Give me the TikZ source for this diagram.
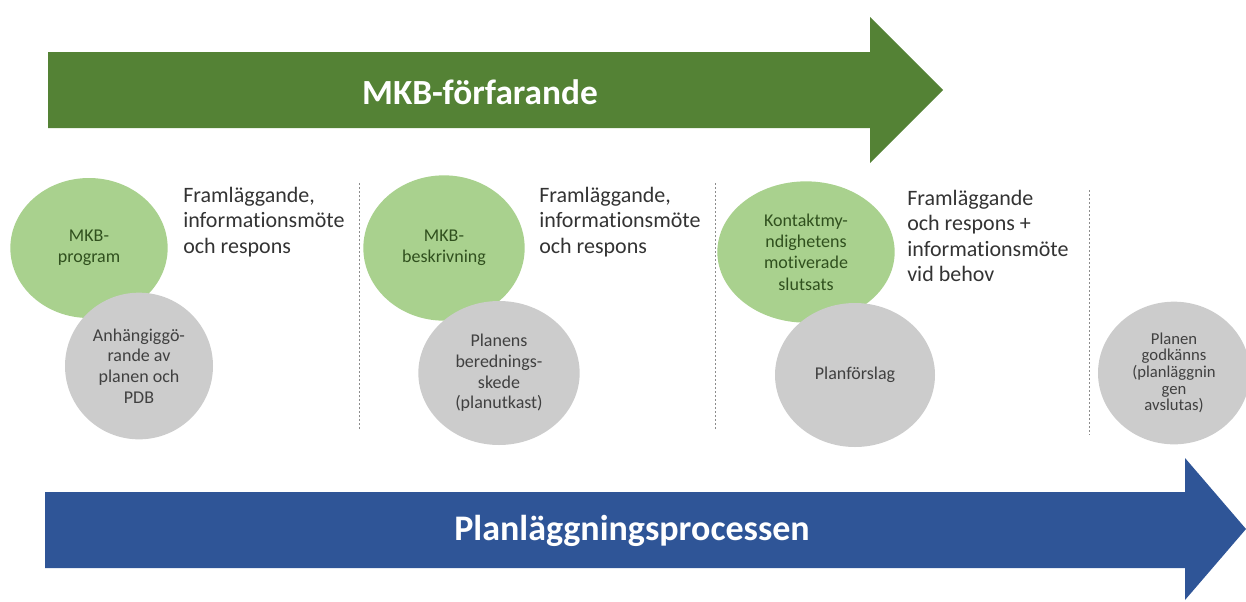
\documentclass[tikz,border=0pt]{standalone}
\usepackage{fontspec}
\setmainfont{Carlito}[Ligatures=NoCommon]
\usetikzlibrary{shapes.geometric}
\definecolor{arrgreen}{RGB}{84,130,53}
\definecolor{arrblue}{RGB}{47,85,151}
\definecolor{cgreen}{RGB}{169,209,142}
\definecolor{cgray}{RGB}{204,204,204}
\definecolor{tgreen}{RGB}{48,80,30}
\definecolor{tgray}{RGB}{64,64,64}
\definecolor{dashgray}{RGB}{140,140,140}
\tikzset{
  greenc/.style={ellipse,fill=cgreen,text=tgreen,align=center,inner sep=0pt,font=\fontsize{13.5}{16}\selectfont},
  grayc/.style={ellipse,fill=cgray,text=tgray,align=center,inner sep=0pt,font=\fontsize{13.5}{15.5}\selectfont},
  lbl/.style={anchor=north west,align=left,inner sep=0pt,text=black!80,font=\fontsize{16.5}{19}\selectfont},
  sep/.style={draw=dashgray,line width=0.6pt,dash pattern=on 1.5pt off 1.5pt},
  title/.style={text=white,font=\bfseries\fontsize{26.5}{30}\selectfont}
}
\begin{document}
\begin{tikzpicture}[x=0.75pt,y=-0.75pt]
\useasboundingbox (0,0) rectangle (1246,601);
% green arrow
\fill[arrgreen] (48,52) -- (870,52) -- (870,17) -- (943,90) -- (870,163) -- (870,128) -- (48,128) -- cycle;
\node[title] (mkb) at (480,92) {MKB-förfarande};
% blue arrow
\fill[arrblue] (45,492) -- (1185,492) -- (1185,458) -- (1246,529) -- (1185,600) -- (1185,568) -- (45,568) -- cycle;
\node[title,font=\bfseries\fontsize{27}{30}\selectfont] (plan) at (632,531) {Planläggningsprocessen};
% separators
\coordinate (s1a) at (359,183); \coordinate (s1b) at (359,430);
\coordinate (s2a) at (715,183); \coordinate (s2b) at (715,430);
\coordinate (s3a) at (1089,190); \coordinate (s3b) at (1089,435);
\draw[sep] (s1a) -- (s1b);
\draw[sep] (s2a) -- (s2b);
\draw[sep] (s3a) -- (s3b);
% stage 1
\node[greenc,minimum width=118pt,minimum height=105pt] (g1) at (89,248) {MKB-\\program};
\node[grayc,minimum width=111pt,minimum height=110pt] (c1) at (139,366) {Anhängiggö-\\rande av\\planen och\\PDB};
\node[lbl] (l1) at (183,187) {Framläggande,\\informationsmöte\\och respons};
% stage 2
\node[greenc,minimum width=121pt,minimum height=109pt] (g2) at (444,248) {MKB-\\beskrivning};
\node[grayc,minimum width=121pt,minimum height=108pt] (c2) at (499,373) {Planens\\berednings-\\skede\\(planutkast)};
\node[lbl] (l2) at (539,187) {Framläggande,\\informationsmöte\\och respons};
% stage 3
\node[greenc,minimum width=133pt,minimum height=106pt] (g3) at (806,252) {Kontaktmy-\\ndighetens\\motiverade\\slutsats};
\node[grayc,minimum width=120pt,minimum height=108pt] (c3) at (855,375) {Planförslag};
\node[lbl] (l3) at (907,190) {Framläggande\\och respons +\\informationsmöte\\vid behov};
% stage 4
\node[grayc,minimum width=114pt,minimum height=107pt,font=\fontsize{12.5}{12.5}\selectfont] (c4) at (1174,373) {Planen\\godkänns\\(planläggnin\\gen\\avslutas)};
\end{tikzpicture}
\end{document}
